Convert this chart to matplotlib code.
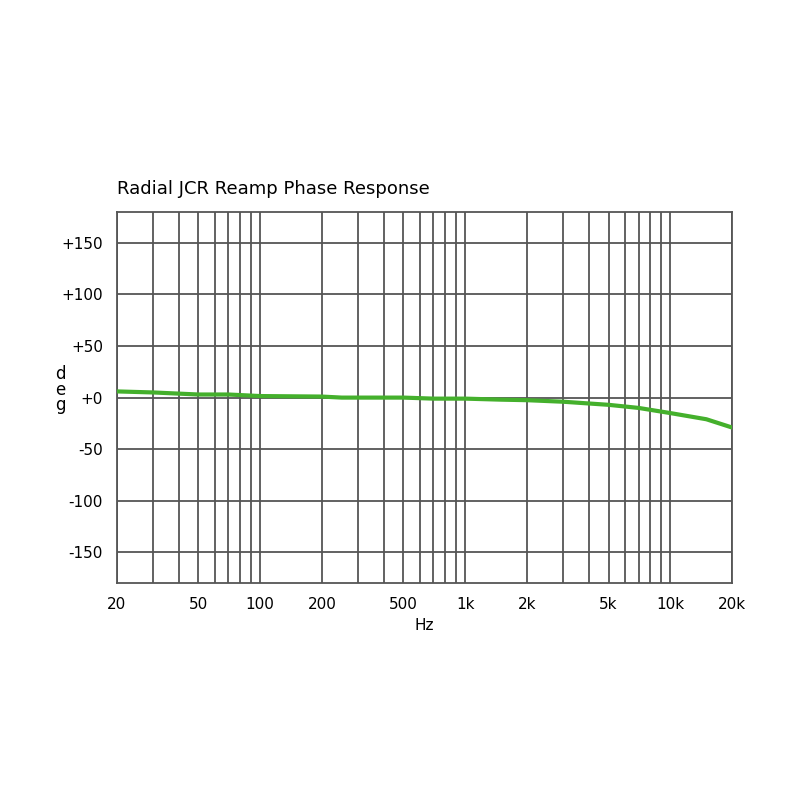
import matplotlib
matplotlib.use('Agg')
import matplotlib.pyplot as plt
from matplotlib.ticker import FixedLocator, NullLocator

# --- DATA ---
freq = [20, 30, 50, 70, 100, 200, 250, 300, 500, 700, 1000, 1500, 2000, 3000, 5000, 7000, 10000, 15000, 20000]
phase = [6, 5, 3, 3, 1.5, 1, 0, 0, 0, -1, -1, -2, -2.5, -4, -7, -10, -15, -21, -29]
x_ticks = [20, 50, 100, 200, 500, 1000, 2000, 5000, 10000, 20000]
x_labels = ['20', '50', '100', '200', '500', '1k', '2k', '5k', '10k', '20k']
y_ticks = [150, 100, 50, 0, -50, -100, -150]
y_labels = ['+150', '+100', '+50', '+0', '-50', '-100', '-150']

grid_x = [d * m for d in (10, 100, 1000, 10000) for m in range(1, 10)]
grid_x = [g for g in grid_x if 20 <= g <= 20000]

fig = plt.figure(figsize=(8, 8), dpi=100)
ax = fig.add_axes([0.146, 0.271, 0.769, 0.464])

ax.set_xscale('log')
ax.set_xlim(20, 20000)
ax.set_ylim(-180, 180)

for g in grid_x:
    ax.axvline(g, color='#555555', lw=1.3, zorder=1)
for y in y_ticks:
    ax.axhline(y, color='#555555', lw=1.3, zorder=1)

ax.plot(freq, phase, color='#44b02c', lw=3, zorder=3)

ax.xaxis.set_major_locator(FixedLocator(x_ticks))
ax.xaxis.set_minor_locator(NullLocator())
ax.set_xticklabels(x_labels)
ax.set_yticks(y_ticks)
ax.set_yticklabels(y_labels)
ax.tick_params(length=0, labelsize=11, pad=10)
for s in ax.spines.values():
    s.set_color('#555555')
    s.set_linewidth(1.3)

fig.text(0.146, 0.758, 'Radial JCR Reamp Phase Response', fontsize=13)
fig.text(0.075, 0.513, 'd\ne\ng', fontsize=12, ha='center', va='center', linespacing=0.85)
fig.text(0.53, 0.213, 'Hz', fontsize=11, ha='center')

fig.savefig('out.png')
